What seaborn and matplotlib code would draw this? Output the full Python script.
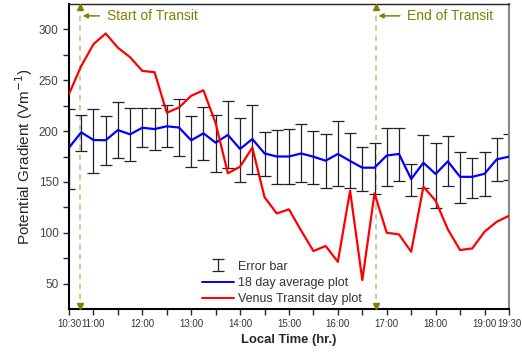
import matplotlib
matplotlib.use("Agg")
import matplotlib.pyplot as plt
import seaborn as sns
import pandas as pd
import numpy as np

# ---- data ----
hours = [10.5, 10.75, 11.0, 11.25, 11.5, 11.75, 12.0, 12.25, 12.5, 12.75,
         13.0, 13.25, 13.5, 13.75, 14.0, 14.25, 14.5, 14.75, 15.0, 15.25,
         15.5, 15.75, 16.0, 16.25, 16.5, 16.75, 17.0, 17.25, 17.5, 17.75,
         18.0, 18.25, 18.5, 18.75, 19.0, 19.25, 19.5]
avg_18day = [183.7, 198.8, 191.2, 191.0, 201.0, 196.8, 203.3, 202.0, 204.7, 203.5,
             190.9, 197.8, 188.6, 196.2, 182.4, 192.2, 178.0, 175.0, 175.0, 178.0,
             174.8, 170.9, 177.5, 170.6, 164.0, 164.0, 176.0, 177.5, 152.8, 168.9,
             157.8, 170.2, 155.0, 155.0, 158.0, 172.2, 174.8]
err_top = [221.8, 216.0, 221.4, 215.2, 228.3, 222.7, 223.0, 223.0, 226.0, 231.6,
           214.9, 224.0, 216.2, 229.3, 213.2, 225.4, 199.1, 200.8, 202.4, 207.0,
           200.1, 196.8, 209.6, 198.4, 184.6, 188.6, 203.4, 203.4, 167.9, 196.5,
           188.6, 194.9, 179.7, 173.8, 179.7, 192.9, 197.5]
err_bottom = [143.0, 180.0, 158.5, 166.6, 173.8, 170.3, 184.0, 181.0, 184.0, 175.5,
              164.7, 171.9, 159.4, 164.0, 149.6, 158.0, 156.0, 148.2, 147.6, 149.6,
              148.2, 143.7, 146.3, 144.3, 140.7, 137.8, 146.3, 151.0, 136.4, 143.7,
              124.0, 146.0, 129.5, 134.2, 136.1, 150.6, 151.6]
transit_day = [236.5, 264.0, 285.4, 296.0, 282.0, 272.6, 259.2, 257.9, 218.1, 223.2,
               234.7, 240.1, 207.7, 158.5, 165.0, 183.7, 135.0, 119.0, 123.0, 102.0,
               82.0, 87.0, 71.4, 141.4, 53.5, 138.8, 100.0, 98.4, 81.3, 145.3,
               131.5, 103.3, 83.0, 84.6, 101.0, 110.8, 116.7]
tick_hours = [10.5, 11, 12, 13, 14, 15, 16, 17, 18, 19, 19.5]
tick_labels = ["10:30", "11:00", "12:00", "13:00", "14:00", "15:00", "16:00",
               "17:00", "18:00", "19:00", "19:30"]
transit_start = 10.72
transit_end = 16.77

# ---- style ----
sns.set_style("ticks")
plt.rcParams["font.family"] = ["Liberation Sans", "DejaVu Sans"]

fig = plt.figure(figsize=(5.22, 3.53), dpi=100)
ax = fig.add_axes([0.1322, 0.1246, 0.8428, 0.8641])

df = pd.DataFrame({"hour": hours, "avg": avg_18day, "venus": transit_day})
yerr = [np.array(avg_18day) - np.array(err_bottom), np.array(err_top) - np.array(avg_18day)]

ax.errorbar(hours, avg_18day, yerr=yerr, fmt="none", ecolor="#222222",
            elinewidth=0.9, capsize=4.3, capthick=0.9, zorder=2, label="Error bar")
sns.lineplot(data=df, x="hour", y="avg", color="#0000ff", linewidth=1.6, ax=ax,
             label="18 day average plot", zorder=3)
sns.lineplot(data=df, x="hour", y="venus", color="#ff0000", linewidth=1.6, ax=ax,
             label="Venus Transit day plot", zorder=4)

# transit markers
olive = "#808000"
for xv in (transit_start, transit_end):
    ax.axvline(xv, color="#c8c890", linestyle=(0, (3, 2.5)), linewidth=1.3, zorder=1)
    ax.plot([xv], [322], marker="^", color=olive, markersize=5, clip_on=False, zorder=5)
    ax.plot([xv], [28], marker="v", color=olive, markersize=5, clip_on=False, zorder=5)

ax.annotate("Start of Transit", xy=(transit_start + 0.06, 313.3), xytext=(11.27, 313.3),
            ha="left", va="center", color=olive, fontsize=10,
            arrowprops=dict(arrowstyle="-|>", color=olive, lw=1.1, mutation_scale=7,
                            shrinkA=3, shrinkB=0))
ax.annotate("End of Transit", xy=(transit_end + 0.06, 313.3), xytext=(17.42, 313.3),
            ha="left", va="center", color=olive, fontsize=10,
            arrowprops=dict(arrowstyle="-|>", color=olive, lw=1.1, mutation_scale=7,
                            shrinkA=3, shrinkB=0))

ax.set_xlim(10.5, 19.5)
ax.set_ylim(25, 325)
ax.set_xticks(tick_hours)
ax.set_xticklabels(tick_labels, fontsize=7, color="#333333")
ax.set_xticks([11.5, 12.5, 13.5, 14.5, 15.5, 16.5, 17.5, 18.5], minor=True)
ax.set_yticks([50, 100, 150, 200, 250, 300])
ax.set_yticks([75, 125, 175, 225, 275], minor=True)
ax.tick_params(axis="y", labelsize=8.5, labelcolor="#444444", length=4, width=1, direction="out")
ax.tick_params(axis="x", length=4, width=1, direction="out")
ax.tick_params(which="minor", length=4, width=1, direction="out")

ax.set_xlabel("Local Time (hr.)", fontsize=9.4, fontweight="bold", labelpad=3)
ax.set_ylabel("Potential Gradient (Vm$^{-1}$)", fontsize=11, labelpad=3)

for s in ("left", "bottom"):
    ax.spines[s].set_linewidth(1.5)
    ax.spines[s].set_color("black")
ax.spines["top"].set_visible(True)
ax.spines["top"].set_linewidth(1.0)
ax.spines["top"].set_color("#222222")
ax.spines["right"].set_visible(True)
ax.spines["right"].set_linewidth(1.5)
ax.spines["right"].set_color("#888888")

handles, labels = ax.get_legend_handles_labels()
order = [labels.index("Error bar"), labels.index("18 day average plot"),
         labels.index("Venus Transit day plot")]
leg = ax.legend([handles[i] for i in order], [labels[i] for i in order],
                loc="lower left", bbox_to_anchor=(0.3016, 0.012), frameon=False,
                fontsize=9, handlelength=2.6, labelspacing=0.35, handletextpad=0.3,
                borderpad=0, borderaxespad=0, labelcolor="#333333")
for line in leg.get_lines():
    line.set_linewidth(1.4)

fig.savefig("out.png", dpi=100)
